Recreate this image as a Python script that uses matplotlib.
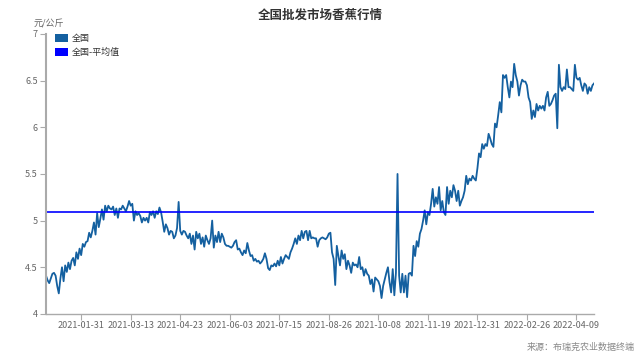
import matplotlib
matplotlib.use("Agg")
import matplotlib.pyplot as plt
import numpy as np
from matplotlib.patches import Rectangle

plt.rcParams['font.family'] = ['Noto Sans CJK SC', 'DejaVu Sans']

title = "全国批发市场香蕉行情"
unit = "元/公斤"
series_name = "全国"
mean_name = "全国-平均值"
source = "来源：布瑞克农业数据终端"

tick_labels = ["2021-01-31", "2021-03-13", "2021-04-23", "2021-06-03", "2021-07-15",
               "2021-08-26", "2021-10-08", "2021-11-19", "2021-12-31", "2022-02-26",
               "2022-04-09"]
first_tick_index = 22
tick_step = 31

values = [
    # Jan - Mar 2021
    4.41, 4.36, 4.33, 4.38, 4.43, 4.44, 4.41, 4.3, 4.22, 4.38,
    4.5, 4.35, 4.52, 4.45, 4.55, 4.48, 4.57, 4.6, 4.52, 4.66,
    4.59, 4.7, 4.63, 4.75, 4.72, 4.77, 4.78, 4.87, 4.82, 4.89,
    4.98, 4.85, 5.08, 4.93, 5.02, 5.12, 5.01, 5.16, 5.1, 5.16,
    5.13, 5.12, 5.15, 5.06, 5.13, 5.03, 5.13, 5.12, 5.16, 5.13,
    5.1, 5.15, 5.21, 5.16, 5.18, 5.0, 5.1, 5.06, 5.08, 5.05,
    4.98, 5.03, 5.0,
    # Apr - Jun
    5.03, 4.98, 5.09, 5.06, 5.1, 5.03, 5.1, 5.07, 5.14, 5.09,
    4.99, 4.88, 4.96, 4.92, 4.85, 4.89, 4.88, 4.81, 4.84, 4.92,
    5.2, 4.89, 4.85, 4.89, 4.88, 4.84, 4.81, 4.86, 4.75, 4.84,
    4.69, 4.88, 4.81, 4.86, 4.75, 4.82, 4.72, 4.84, 4.79, 4.75,
    4.81, 5.0, 4.71, 4.84, 4.77, 4.88, 4.77, 4.86, 4.82, 4.75,
    4.73, 4.73, 4.72, 4.71, 4.73, 4.77, 4.79,
    # Jun - Aug
    4.69, 4.7, 4.66, 4.63, 4.68, 4.65, 4.76, 4.68, 4.62, 4.63,
    4.57, 4.59, 4.56, 4.57, 4.54, 4.56, 4.59, 4.65, 4.59, 4.49,
    4.47, 4.52, 4.51, 4.54, 4.51, 4.57, 4.52, 4.61, 4.54, 4.59,
    4.63, 4.61, 4.59, 4.66, 4.7, 4.75, 4.81, 4.75, 4.84, 4.79,
    4.89, 4.81, 4.88, 4.89, 4.79, 4.89, 4.81, 4.82, 4.81, 4.81,
    4.72, 4.79, 4.81, 4.82, 4.81,
    # Aug - Oct
    4.8, 4.82, 4.86, 4.87, 4.66, 4.59, 4.31, 4.73, 4.62, 4.52,
    4.68, 4.59, 4.64, 4.48, 4.57, 4.52, 4.44, 4.55, 4.52, 4.53,
    4.5, 4.61, 4.48, 4.5, 4.41, 4.48, 4.43, 4.41, 4.32, 4.37,
    4.24, 4.39, 4.37, 4.35, 4.3, 4.17, 4.3, 4.37, 4.44, 4.5,
    4.34, 4.23, 4.48, 4.2, 4.44, 5.5, 4.41, 4.23, 4.43, 4.23,
    4.41, 4.18, 4.43, 4.44, 4.41, 4.73,
    # Oct - Jan 2022
    4.62, 4.78, 4.72, 4.86, 4.91, 5.0, 5.11, 4.96, 5.09, 5.06,
    5.18, 5.34, 5.15, 5.25, 5.18, 5.36, 5.11, 5.21, 5.09, 5.06,
    5.36, 5.18, 5.32, 5.25, 5.38, 5.32, 5.21, 5.32, 5.16, 5.21,
    5.25, 5.32, 5.48, 5.39, 5.45, 5.43, 5.48, 5.45, 5.43, 5.56,
    5.72, 5.68, 5.82, 5.77, 5.82, 5.8, 5.93, 5.88,
    # Jan - Apr 2022
    5.82, 5.79, 6.04, 6.0, 6.13, 6.27, 6.16, 6.56, 6.53, 6.56,
    6.43, 6.32, 6.49, 6.43, 6.68, 6.56, 6.49, 6.34, 6.45, 6.51,
    6.49, 6.49, 6.45, 6.32, 6.27, 6.09, 6.18, 6.11, 6.25, 6.18,
    6.23, 6.2, 6.23, 6.18, 6.32, 6.38, 6.23, 6.25, 6.29, 6.34,
    6.36, 5.99, 6.67, 6.43, 6.39, 6.43, 6.41, 6.62, 6.43, 6.43,
    6.41, 6.39, 6.67, 6.53, 6.51, 6.53, 6.45, 6.39, 6.47, 6.45,
    6.36, 6.43, 6.39, 6.45, 6.47,
]
mean_value = 5.09

y_ticks = [4, 4.5, 5, 5.5, 6, 6.5, 7]
y_tick_labels = ["4", "4.5", "5", "5.5", "6", "6.5", "7"]

line_color = "#1460a0"
mean_color = "#0000ff"
axis_color = "#aaaaaa"
text_color = "#666666"

fig = plt.figure(figsize=(6.4, 3.6), dpi=100)
ax = fig.add_axes([0.0719, 0.128, 0.8563, 0.7776])

x = np.arange(len(values))
ax.plot(x, values, color=line_color, linewidth=1.3, solid_joinstyle='round')
ax.axhline(mean_value, color=mean_color, linewidth=1.2)

ax.set_xlim(0, len(values) - 1)
ax.set_ylim(4, 7)
ax.set_yticks(y_ticks)
ax.set_yticklabels(y_tick_labels)
tick_pos = [first_tick_index + i * tick_step for i in range(len(tick_labels))]
ax.set_xticks(tick_pos)
ax.set_xticklabels(tick_labels)

for s in ['top', 'right']:
    ax.spines[s].set_visible(False)
for s in ['left', 'bottom']:
    ax.spines[s].set_color(axis_color)
    ax.spines[s].set_linewidth(1.0)
ax.spines['left'].set_linewidth(1.5)
ax.tick_params(axis='both', colors=axis_color, labelcolor=text_color, labelsize=6.5, length=4, width=0.8, pad=2)
ax.tick_params(axis='x', pad=1)

fig.text(0.5, 0.975, title, ha='center', va='top', fontsize=9, fontweight='bold', color='#333333')
fig.text(0.053, 0.945, unit, ha='left', va='top', fontsize=6.5, color=text_color)

legend_items = [(series_name, line_color), (mean_name, mean_color)]
for i, (name, col) in enumerate(legend_items):
    y0 = 1 - (34 + i * 14 + 8) / 360
    fig.patches.append(Rectangle((55 / 640, y0), 13 / 640, 8 / 360, transform=fig.transFigure,
                                 facecolor=col, edgecolor='none'))
    fig.text(72 / 640, y0 + 4 / 360, name, ha='left', va='center', fontsize=6.5, color='#333333')

fig.text(0.992, 0.022, source, ha='right', va='bottom', fontsize=6.5, color='#888888')

fig.savefig("out.png", dpi=100)
